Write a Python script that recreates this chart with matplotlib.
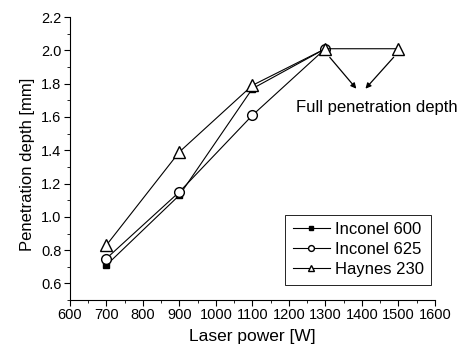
import matplotlib.pyplot as plt
from matplotlib.ticker import MultipleLocator

plt.rcParams['font.family'] = ['Liberation Sans', 'DejaVu Sans']

# data
power = [700, 900, 1100, 1300]
power_h = [700, 900, 1100, 1300, 1500]
inconel600 = [0.71, 1.13, 1.77, 2.01]
inconel625 = [0.75, 1.15, 1.61, 2.01]
haynes230 = [0.83, 1.39, 1.79, 2.01, 2.01]

fig = plt.figure(figsize=(4.66, 3.49), dpi=100)
ax = fig.add_axes([0.150, 0.140, 0.783, 0.811])

ax.plot(power, inconel600, '-s', color='black', lw=0.8, ms=5,
        mfc='black', label='Inconel 600')
ax.plot(power, inconel625, '-o', color='black', lw=0.8, ms=7,
        mfc='white', label='Inconel 625')
ax.plot(power_h, haynes230, '-^', color='black', lw=0.8, ms=8,
        mfc='white', label='Haynes 230')

# arrows to the label
for xs, xe in [(1300, 1385), (1500, 1410)]:
    ax.annotate('', xy=(xe, 1.77), xytext=(xs, 1.99),
                arrowprops=dict(arrowstyle='-|>', color='black', lw=0.9,
                                mutation_scale=8, shrinkA=5, shrinkB=0))
ax.text(1441, 1.655, 'Full penetration depth', ha='center', va='center',
        fontsize=12)

ax.set_xlim(600, 1600)
ax.set_ylim(0.5, 2.2)
ax.xaxis.set_major_locator(MultipleLocator(100))
ax.xaxis.set_minor_locator(MultipleLocator(50))
ax.yaxis.set_minor_locator(MultipleLocator(0.1))
ax.set_yticks([0.6, 0.8, 1.0, 1.2, 1.4, 1.6, 1.8, 2.0, 2.2])
ax.yaxis.set_major_formatter(plt.FuncFormatter(lambda v, p: f'{v:.1f}'))

ax.spines['top'].set_visible(False)
ax.spines['right'].set_visible(False)
ax.tick_params(which='major', direction='out', length=4, labelsize=10.5, pad=2)
ax.tick_params(which='minor', direction='out', length=2)

ax.set_xlabel('Laser power [W]', fontsize=12.5, labelpad=5)
ax.set_ylabel('Penetration depth [mm]', fontsize=12)
ax.yaxis.set_label_coords(-0.095, 0.48)

leg = ax.legend(loc='lower right', bbox_to_anchor=(0.99, 0.055), fontsize=12,
                fancybox=False, edgecolor='black', framealpha=1,
                handlelength=2.2, borderpad=0.45, labelspacing=0.3,
                handletextpad=0.3, borderaxespad=0, markerscale=0.6)
leg.get_frame().set_linewidth(0.6)

fig.savefig('out.png', dpi=100)
